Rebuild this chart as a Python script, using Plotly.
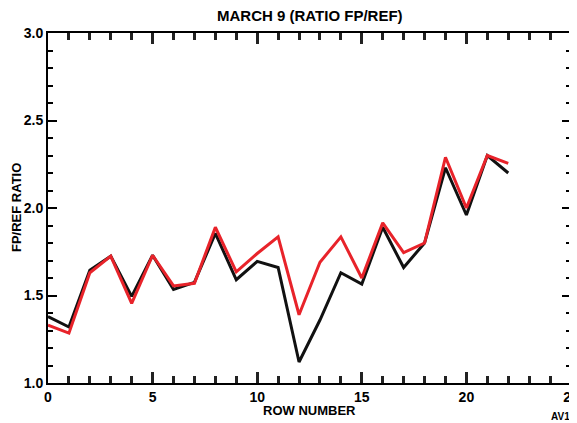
import plotly.graph_objects as go

rows = list(range(23))
black_ratio = [1.38, 1.32, 1.645, 1.725, 1.495, 1.73, 1.535, 1.575, 1.855, 1.59, 1.695, 1.66,
               1.12, 1.36, 1.63, 1.565, 1.89, 1.66, 1.80, 2.23, 1.96, 2.30, 2.20]
red_ratio = [1.33, 1.285, 1.63, 1.725, 1.455, 1.73, 1.555, 1.57, 1.89, 1.635, 1.74, 1.835,
             1.39, 1.69, 1.835, 1.60, 1.915, 1.745, 1.80, 2.29, 2.00, 2.30, 2.255]

title_text = "MARCH 9 (RATIO FP/REF)"
x_title = "ROW NUMBER"
y_title = "FP/REF RATIO"
corner_text = "AV19"

FONT = "Liberation Sans, Arial, sans-serif"

fig = go.Figure()
fig.add_trace(go.Scatter(x=rows, y=black_ratio, mode="lines",
                         line=dict(color="#111111", width=3), showlegend=False))
fig.add_trace(go.Scatter(x=rows, y=red_ratio, mode="lines",
                         line=dict(color="#e8232a", width=3), showlegend=False))

tickfont = dict(family=FONT, size=14, color="black", weight="bold")

fig.update_xaxes(range=[0, 25], tick0=0, dtick=5, tickmode="linear",
                 showgrid=False, zeroline=False, showline=True, linecolor="black",
                 linewidth=2, mirror="ticks", ticks="inside", tickcolor="#222222",
                 tickwidth=3, ticklen=11, automargin=False, ticklabeloverflow="allow",
                 tickfont=tickfont,
                 minor=dict(dtick=1, ticks="inside", ticklen=7, tickwidth=3,
                            tickcolor="#222222", showgrid=False))
fig.update_yaxes(range=[1.0, 3.0], tick0=1.0, dtick=0.5, tickformat=".1f", tickmode="linear",
                 showgrid=False, zeroline=False, showline=True, linecolor="black",
                 linewidth=2, mirror="ticks", ticks="inside", tickcolor="black",
                 tickwidth=2, ticklen=9, automargin=False,
                 tickfont=tickfont,
                 minor=dict(dtick=0.1, ticks="inside", ticklen=5, tickwidth=2,
                            tickcolor="black", showgrid=False))

fig.update_layout(
    width=569, height=415,
    margin=dict(l=40, r=6, t=25, b=40, autoexpand=False),
    plot_bgcolor="white", paper_bgcolor="white",
    annotations=[
        dict(text=title_text, xref="paper", yref="paper", x=0.5, y=1.0, yshift=18,
             xanchor="center", yanchor="middle", showarrow=False,
             font=dict(family=FONT, size=15, color="black", weight="bold")),
        dict(text=x_title, xref="paper", yref="paper", x=0.5, y=0, yshift=-27,
             xanchor="center", yanchor="middle", showarrow=False,
             font=dict(family=FONT, size=13, color="black", weight="bold")),
        dict(text=y_title, xref="paper", yref="paper", x=0, xshift=-32, y=0.5,
             xanchor="center", yanchor="middle", textangle=-90, showarrow=False,
             font=dict(family=FONT, size=13, color="black", weight="bold")),
        dict(text=corner_text, xref="paper", yref="paper", x=1.0, xshift=-22, y=0, yshift=-33,
             xanchor="left", yanchor="middle", showarrow=False,
             font=dict(family=FONT, size=10, color="black", weight="bold")),
    ],
)

fig.write_html("out.html")
